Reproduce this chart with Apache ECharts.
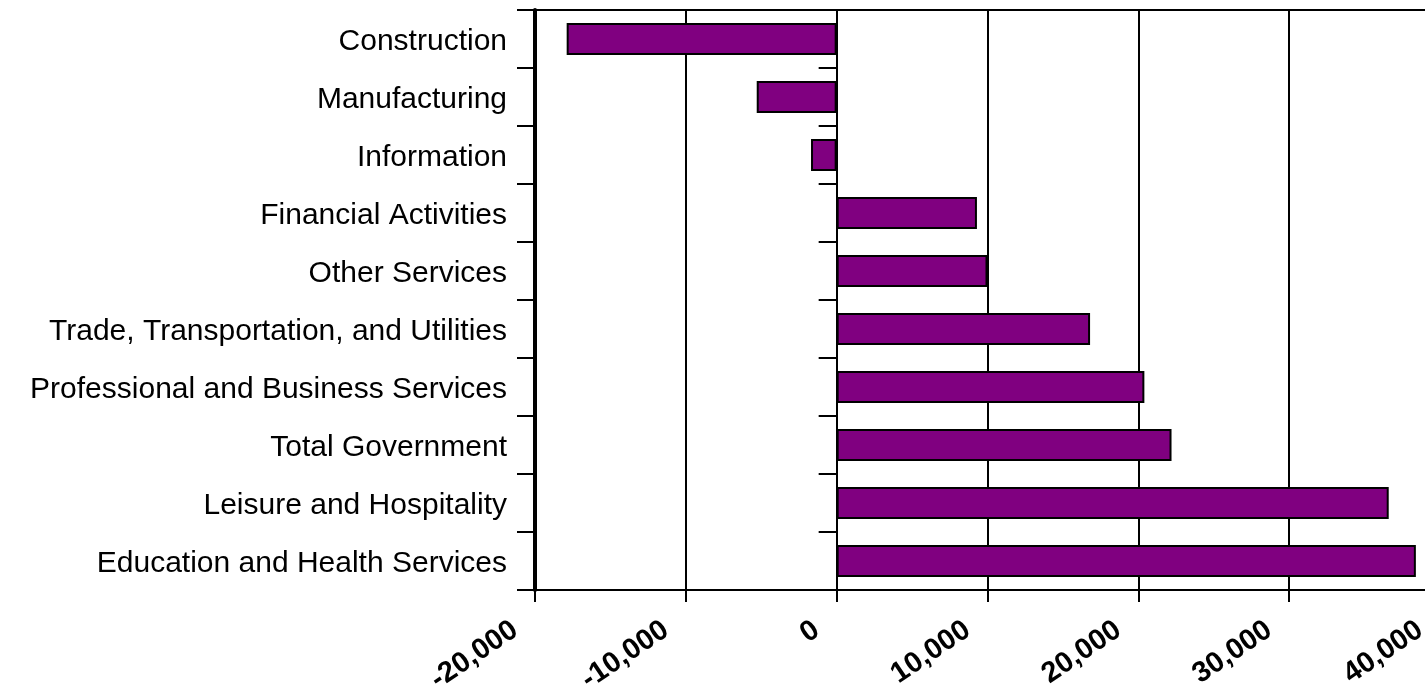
<!DOCTYPE html>
<html>
<head>
<meta charset="utf-8">
<script src="https://cdn.jsdelivr.net/npm/echarts@6/dist/echarts.min.js"></script>
<style>
html,body{margin:0;padding:0;background:#fff;}
#c{width:1425px;height:684px;}
</style>
</head>
<body>
<div id="c"></div>
<script>
var categories = [
  "Construction",
  "Manufacturing",
  "Information",
  "Financial Activities",
  "Other Services",
  "Trade, Transportation, and Utilities",
  "Professional and Business Services",
  "Total Government",
  "Leisure and Hospitality",
  "Education and Health Services"
];
var values = [-17900, -5300, -1700, 9300, 10000, 16800, 20400, 22200, 36600, 38400];
var xMin = -20000, xMax = 40000, xStep = 10000;

var chart = echarts.init(document.getElementById('c'));
chart.setOption({
  animation: false,
  backgroundColor: '#fff',
  grid: {
    left: 535, right: -15, top: 10, bottom: 94,
    show: true, borderColor: '#000', borderWidth: 2,
    containLabel: false, outerBoundsMode: 'none'
  },
  xAxis: {
    type: 'value', min: xMin, max: xMax, interval: xStep,
    axisLine: { show: true, lineStyle: { color: '#000', width: 2 } },
    axisTick: { show: true, length: 12, lineStyle: { color: '#000', width: 2 } },
    splitLine: { show: true, lineStyle: { color: '#000', width: 2 } },
    axisLabel: {
      rotate: 34, margin: 24, padding: [0, 24, 0, 0],
      color: '#000', fontFamily: 'Liberation Sans, Arial, sans-serif',
      fontWeight: 'bold', fontSize: 29,
      formatter: function (v) { return v.toLocaleString('en-US'); }
    }
  },
  yAxis: [{
    type: 'category', data: categories, inverse: true,
    axisLine: { show: true, onZero: false, lineStyle: { color: '#000', width: 4 } },
    axisTick: { show: true, length: 18, lineStyle: { color: '#000', width: 2 } },
    splitLine: { show: false },
    axisLabel: {
      margin: 28, verticalAlign: 'top', lineHeight: 6, color: '#000',
      fontFamily: 'Liberation Sans, Arial, sans-serif', fontSize: 30
    }
  }, {
    type: 'category', data: categories, inverse: true, position: 'left',
    axisLine: { show: true, onZero: true, onZeroAxisIndex: 0, lineStyle: { color: '#000', width: 2 } },
    axisTick: { show: true, length: 18, lineStyle: { color: '#000', width: 2 } },
    axisLabel: { show: false },
    splitLine: { show: false }
  }],
  series: [{
    type: 'bar', data: values, yAxisIndex: 0, barWidth: 32,
    itemStyle: { color: '#800080', borderColor: '#000', borderWidth: 2 }
  }]
});
</script>
</body>
</html>
